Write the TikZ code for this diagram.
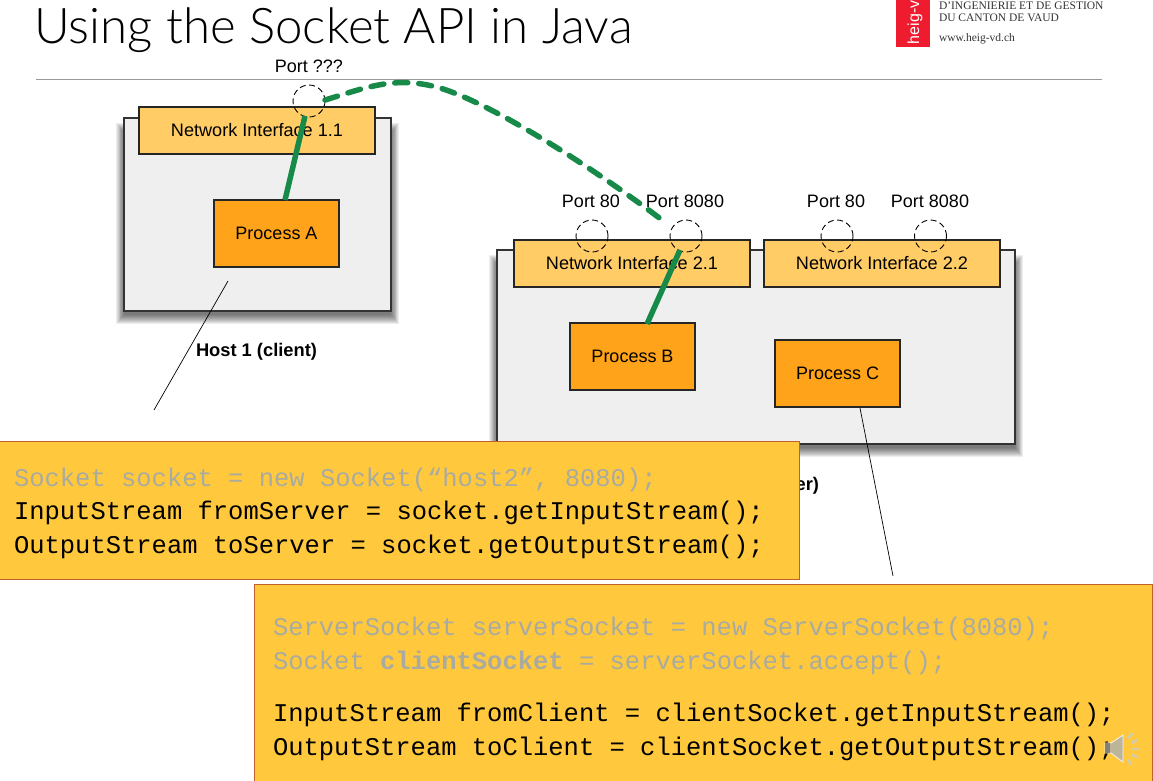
\documentclass[tikz,border=0pt]{standalone}
\usepackage{fontspec}
\setmainfont{Liberation Sans}
\setmonofont{Liberation Mono}
\newfontfamily\logoserif{Liberation Serif}
\newfontfamily\titlefont{Lato Light}
\definecolor{hostfill}{HTML}{EFEFEF}
\definecolor{nifill}{HTML}{FFCC66}
\definecolor{procfill}{HTML}{FFA31A}
\definecolor{linkgreen}{HTML}{178A4A}
\definecolor{codefill}{HTML}{FFC83D}
\definecolor{codeedge}{HTML}{C0602A}
\definecolor{fadedcode}{HTML}{A9ABA0}
\definecolor{logored}{HTML}{EE1C2E}
\definecolor{speaker}{HTML}{BDB59A}
\newcommand{\sizepx}[1]{\fontsize{#1}{#1}\selectfont}
\tikzset{
  every node/.style={inner sep=0pt,outer sep=0pt},
  hostbox/.style={draw=black!80,line width=1.1pt,fill=hostfill,minimum width=#1,minimum height=193pt},
  nibox/.style={draw=black!85,line width=1.1pt,fill=nifill,minimum width=236pt,minimum height=47pt,font=\sizepx{18.1}},
  procbox/.style={draw=black!85,line width=1.1pt,fill=procfill,minimum width=125pt,minimum height=67pt,font=\sizepx{18}},
  portcircle/.style={draw=black,line width=0.9pt,dash pattern=on 6pt off 3.5pt,circle,minimum size=32pt},
  portlabel/.style={font=\sizepx{18}},
  hostlabel/.style={font=\bfseries\sizepx{18.3}},
  link/.style={draw=linkgreen,line width=5.5pt},
  lead/.style={draw=black,line width=0.7pt},
  codebox/.style={draw=codeedge,line width=1pt,fill=codefill,anchor=north west},
  code/.style={anchor=base west,font=\ttfamily\sizepx{25.5}},
  faded/.style={code,text=fadedcode},
  logotext/.style={anchor=base west,font=\logoserif\sizepx{11.5},text=black!80},
  wave/.style={draw=speaker!70,line width=2.4pt,line cap=round},
}
\begin{document}
\begin{tikzpicture}[x=1pt,y=-1pt]
\useasboundingbox (0,0) rectangle (1153,780);
\clip (0,0) rectangle (1153,780);
% title and rule
\node[anchor=base west,font=\titlefont\sizepx{49.2},text=black] (title) at (34.5,43) {Using the Socket API in Java};
\coordinate (ruleL) at (36,79);
\coordinate (ruleR) at (1102,79);
\draw[black!40,line width=1pt] (ruleL) -- (ruleR);
% logo
\node[fill=logored,anchor=north west,minimum width=34pt,minimum height=47pt] (logo) at (896,0) {};
\node[rotate=90,anchor=base west,text=white,font=\sizepx{16}] (logoword) at (919,44) {heig-v};
\node[logotext] (logo1) at (939,9) {D’INGENIERIE ET DE GESTION};
\node[logotext] (logo2) at (939,21) {DU CANTON DE VAUD};
\node[logotext] (logo3) at (939,41) {www.heig-vd.ch};
% shadows
\foreach \i in {9,8,...,0}{
  \fill[black,opacity=0.07] (124-0.9*\i,132-\i) rectangle (391+0.9*\i,315+\i);
  \fill[black,opacity=0.07] (497-0.9*\i,264-\i) rectangle (1015+0.9*\i,448+\i);
}
% host 1
\node[hostbox=267pt] (host1) at (257.5,214.5) {};
\node[nibox] (ni11) at (257,130.5) {Network Interface 1.1};
\node[procbox] (procA) at (276.5,233.5) {Process A};
\node[hostlabel] (host1label) at (256.5,352) {Host 1 (client)};
% host 2
\node[hostbox=518pt,minimum height=194pt] (host2) at (756,347) {};
\node[nibox] (ni21) at (632,263.5) {Network Interface 2.1};
\node[nibox] (ni22) at (882,263.5) {Network Interface 2.2};
\node[procbox] (procB) at (632.5,356.5) {Process B};
\node[procbox] (procC) at (837.5,373.5) {Process C};
\node[hostlabel,anchor=base east] (host2label) at (819,490) {er)};
% ports
\node[portcircle] (portq) at (309,101) {};
\node[portcircle] (p21a) at (592,236) {};
\node[portcircle] (p21b) at (686,236) {};
\node[portcircle] (p22a) at (837,236) {};
\node[portcircle] (p22b) at (930.5,236) {};
\node[portlabel] (lq) at (309,66) {Port ???};
\node[portlabel] (l21a) at (591,201) {Port 80};
\node[portlabel] (l21b) at (685,201) {Port 8080};
\node[portlabel] (l22a) at (836,201) {Port 80};
\node[portlabel] (l22b) at (930,201) {Port 8080};
% links
\coordinate (aTop) at (305,116);
\coordinate (aBot) at (285,200);
\coordinate (bTop) at (680,250);
\coordinate (bBot) at (647,324);
\coordinate (curveL) at (325,100);
\coordinate (curveR) at (666,223);
\draw[link] (aBot) -- (aTop);
\draw[link] (bBot) -- (bTop);
\draw[link,line cap=round,dash pattern=on 13pt off 11pt] (curveL) .. controls (365,88) and (395,75) .. (440,88) .. controls (490,103) and (590,165) .. (curveR);
% leaders
\coordinate (leadA1) at (154,410);
\coordinate (leadA2) at (228,281);
\coordinate (leadC1) at (860,408);
\coordinate (leadC2) at (893,576);
\draw[lead] (leadA1) -- (leadA2);
\draw[lead] (leadC1) -- (leadC2);
% code boxes
\node[codebox,minimum width=810pt,minimum height=138pt] (code1) at (-11,441) {};
\node[faded] (c11) at (14,486) {Socket socket = new Socket(“host2”, 8080);};
\node[code] (c12) at (14,519) {InputStream fromServer = socket.getInputStream();};
\node[code] (c13) at (14,553) {OutputStream toServer = socket.getOutputStream();};
\node[codebox,minimum width=898pt,minimum height=210pt] (code2) at (254,584) {};
\node[faded] (c21) at (273,635) {ServerSocket serverSocket = new ServerSocket(8080);};
\node[faded] (c22) at (273,669) {Socket \textbf{clientSocket} = serverSocket.accept();};
\node[code] (c23) at (273,721) {InputStream fromClient = clientSocket.getInputStream();};
\node[code] (c24) at (273,755) {OutputStream toClient = clientSocket.getOutputStream();};
% speaker icon
\fill[speaker,draw=white!85!speaker,line width=0.8pt] (1105,743) -- (1111,743) -- (1123,735) -- (1123,762) -- (1111,753) -- (1105,753) -- cycle;
\fill[black!55,opacity=0.8] (1105,743) rectangle (1110,753);
\coordinate (w1a) at (1128,738); \coordinate (w1b) at (1132,734);
\coordinate (w2a) at (1132,743); \coordinate (w2b) at (1137,740);
\coordinate (w3a) at (1133,749); \coordinate (w3b) at (1138,749);
\coordinate (w4a) at (1132,755); \coordinate (w4b) at (1137,757);
\coordinate (w5a) at (1128,760); \coordinate (w5b) at (1131,764);
\foreach \n in {1,...,5}{\draw[wave] (w\n a) -- (w\n b);}
\end{tikzpicture}
\end{document}
